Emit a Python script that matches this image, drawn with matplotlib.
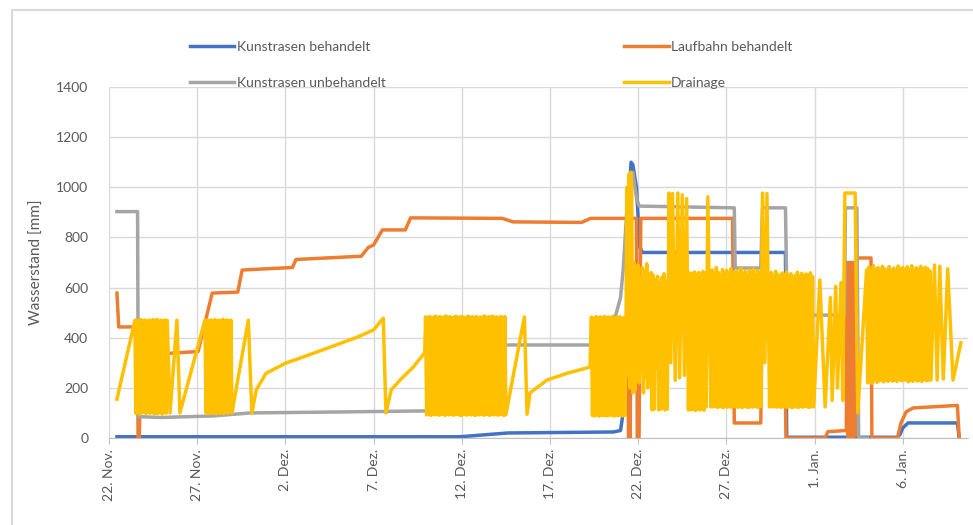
import numpy as np
import pandas as pd
import matplotlib
matplotlib.use("Agg")
import matplotlib.pyplot as plt
from matplotlib.patches import Rectangle

plt.rcParams['font.family'] = ['Lato', 'DejaVu Sans']
plt.rcParams['path.simplify'] = False

start = pd.Timestamp("2019-11-22")   # Tag 0 = 22. Nov.

# Kunstrasen behandelt (Tag, Wasserstand mm)
kb_days = [0.45, 19.9, 22.6, 28.6, 29.0, 29.25, 29.4, 29.5, 29.6, 29.7, 29.9, 30.1, 30.25,
           38.35, 38.42, 44.7, 44.85, 45.0, 45.3, 48.1, 48.2]
kb_vals = [5, 5, 20, 24, 30, 150, 600, 1000, 1100, 1090, 1000, 760, 740,
           740, 3, 3, 15, 40, 60, 60, 0]

# Laufbahn behandelt
lb_days = [0.45, 0.55, 1.6, 1.65, 1.72, 1.8, 3.9, 5.05, 5.85, 7.3, 7.55, 10.4, 10.6, 14.3, 14.7,
           15.0, 15.5, 16.8, 17.1, 22.3, 22.9, 26.8, 27.3, 29.4, 29.45, 29.55, 29.6, 29.9, 29.95,
           30.05, 30.15, 35.35, 35.45, 36.95, 37.02, 38.3, 38.38, 40.6, 40.75, 41.8, 41.85, 41.9,
           41.95, 42.0, 42.05, 42.1, 42.15, 42.2, 42.25, 42.3, 42.38, 43.2, 43.25, 44.7, 44.9,
           45.2, 45.6, 48.1, 48.2]
lb_vals = [578, 443, 443, 0, 0, 330, 340, 345, 578, 582, 670, 680, 712, 725, 760,
           770, 830, 830, 878, 876, 862, 860, 876, 876, 0, 0, 876, 876, 0,
           0, 876, 876, 60, 60, 420, 420, 0, 0, 25, 30, 700, 0,
           700, 0, 700, 0, 700, 0, 700, 10, 718, 718, 0, 0, 60,
           105, 120, 130, 0]

# Kunstrasen unbehandelt
ku_days = [0.45, 1.62, 1.66, 3.0, 5.9, 8.0, 12.0, 17.9, 19.5, 19.6, 27.35, 28.5, 28.7, 29.0,
           29.15, 29.35, 29.55, 29.7, 29.9, 30.05, 35.45, 35.5, 36.95, 37.05, 38.35, 38.45,
           41.7, 41.75, 42.4, 42.5, 43.0]
ku_vals = [903, 903, 85, 82, 88, 100, 103, 108, 108, 371, 371, 440, 483, 560,
           670, 900, 1050, 1060, 960, 925, 918, 678, 678, 918, 918, 490,
           490, 918, 918, 0, 0]

# Drainage: einzelne Punkte
dr_days = [0.45, 1.47, 3.46, 3.85, 4.02, 5.44, 7.9, 8.1, 8.35, 8.9, 10.0, 12.1, 14.1, 15.0,
           15.55, 15.7, 16.0, 16.5, 17.25, 17.9, 23.55, 23.7, 23.87, 24.83, 25.96, 27.27,
           29.3, 29.36, 29.42, 29.47, 29.52, 29.57, 29.63, 29.7,
           31.75, 31.85, 31.95, 32.1, 32.25, 32.35, 32.5, 32.62, 32.75, 32.85,
           33.95, 34.12, 37.05, 37.18, 37.3, 37.45,
           40.3, 40.6, 40.9, 41.0, 41.2, 41.3, 41.5, 41.6, 41.72, 42.3, 42.45,
           46.8, 46.95, 47.1, 47.3, 47.55, 47.85, 48.3]
dr_vals = [155, 470, 100, 470, 100, 470, 470, 100, 192, 258, 298, 351, 403, 431,
           478, 100, 192, 231, 283, 340, 483, 95, 180, 231, 258, 283,
           300, 1000, 250, 1050, 200, 1060, 1010, 180,
           977, 300, 975, 230, 977, 240, 970, 250, 955, 112,
           962, 124, 977, 300, 975, 124,
           630, 124, 560, 150, 605, 200, 620, 150, 977, 977, 100,
           690, 231, 685, 235, 675, 231, 380]

# Drainage: dichte Pumpzyklen (Anfang, Ende, Werte)
dr_b1 = [98, 470, 102, 466, 95, 472, 100, 468, 104, 471, 97, 465, 101, 470, 99, 467,
         103, 472, 96, 469, 100, 473, 98, 466, 102, 470, 95, 468, 101, 471, 99, 469]
dr_b2 = [100, 470, 97, 468, 103, 471, 99, 466, 101, 472, 96, 469, 102, 470,
         98, 467, 100, 473, 97, 468, 103, 471, 99, 466, 101, 470, 100]
dr_b3 = [483, 92, 480, 95, 485, 90, 478, 94, 482, 92, 486, 96, 480, 91, 484, 93, 479, 95, 483, 90,
         487, 94, 481, 92, 484, 96, 478, 91, 482, 93, 486, 95, 480, 92, 483, 90, 485, 94, 479, 93,
         482, 91, 486, 95, 481, 92, 484, 93, 480, 90, 485, 94, 478, 92, 483, 96, 481, 91, 487, 93,
         479, 95, 484, 90, 482, 94, 486, 92, 480, 96, 483, 91, 478, 93, 485, 95, 481, 90, 484, 93]
dr_b4 = [482, 90, 478, 88, 484, 92, 480, 87, 483, 91, 479, 89, 485, 90, 481, 88,
         483, 92, 480, 90, 486, 87, 479, 91, 482, 89, 484, 92, 478, 88, 481, 90]
dr_b5 = [700, 190, 655, 280, 690, 220, 640, 260, 680, 180, 665, 240, 695, 200, 650, 270,
         660, 112, 650, 115, 630, 280, 645, 112, 620, 115, 640, 118, 655, 112, 625, 115]
dr_b6 = [658, 112, 655, 115, 662, 110, 650, 114, 660, 112, 653, 116, 664, 111, 657, 124]
dr_b7 = [670, 124, 655, 126, 680, 122, 660, 125, 645, 124, 672, 121, 658, 126, 668, 123,
         650, 125, 675, 122, 662, 127, 648, 124, 666, 123, 655, 125, 678, 121, 652, 126,
         664, 124, 646, 122, 670, 125, 659, 123, 674, 126, 650, 124, 668, 122, 657, 125]
dr_b8 = [660, 124, 648, 126, 665, 123, 652, 125, 640, 122, 658, 126, 650, 124, 662, 123,
         645, 125, 655, 121, 640, 124, 648, 124, 661, 122, 646, 125, 657, 123, 642, 126,
         654, 124, 649, 122, 659, 125, 644, 124]
dr_b9 = [670, 220, 682, 225, 665, 218, 688, 230, 672, 222, 680, 228, 668, 231, 685, 224, 675, 229,
         662, 226, 684, 232, 670, 227, 678, 230, 666, 225, 686, 233, 674, 228, 680, 231, 668, 231,
         683, 224, 671, 229, 687, 226, 664, 232, 679, 227, 673, 230, 685, 225, 669, 233, 681, 228,
         676, 231, 667, 231]
dr_blocks = [(1.52, 3.3, dr_b1), (5.5, 6.97, dr_b2), (17.95, 22.5, dr_b3), (27.35, 29.25, dr_b4),
             (29.75, 31.65, dr_b5), (32.95, 33.85, dr_b6), (34.2, 36.95, dr_b7),
             (37.55, 39.95, dr_b8), (42.95, 46.6, dr_b9)]

tick_days = [0, 5, 10, 15, 20, 25, 30, 35, 40, 45]
tick_labels = ["22. Nov.", "27. Nov.", "2. Dez.", "7. Dez.", "12. Dez.", "17. Dez.",
               "22. Dez.", "27. Dez.", "1. Jan.", "6. Jan."]


def to_dates(days):
    return start + pd.to_timedelta(np.asarray(days, dtype=float), unit="D")


# Drainage zusammensetzen
d_all = list(dr_days)
v_all = list(dr_vals)
for a, b, vals in dr_blocks:
    d_all += list(np.linspace(a, b, len(vals)))
    v_all += vals
order = np.argsort(d_all, kind="stable")
d_all = np.array(d_all)[order]
v_all = np.array(v_all)[order]

fig = plt.figure(figsize=(9.73, 5.25), dpi=100)
ax = fig.add_axes([109 / 973, 1 - 438 / 525, 859 / 973, 351 / 525])

lw = 2.5
l1, = ax.plot(to_dates(kb_days), kb_vals, color="#4472C4", lw=lw, label="Kunstrasen behandelt")
l2, = ax.plot(to_dates(lb_days), lb_vals, color="#ED7D31", lw=lw, label="Laufbahn behandelt")
l3, = ax.plot(to_dates(ku_days), ku_vals, color="#A5A5A5", lw=lw, label="Kunstrasen unbehandelt")
l4, = ax.plot(to_dates(d_all), v_all, color="#FFC000", lw=lw, label="Drainage")

ax.set_ylim(0, 1400)
ax.set_yticks(range(0, 1401, 200))
ax.set_xlim(to_dates([0])[0], to_dates([48.7])[0])
ax.set_xticks(to_dates(tick_days))
ax.set_xticklabels(tick_labels, rotation=90)
ax.grid(True, color="#d9d9d9", lw=1)
ax.set_axisbelow(True)
for s in ["top", "right", "left"]:
    ax.spines[s].set_visible(False)
ax.spines["bottom"].set_color("#bfbfbf")
ax.tick_params(colors="#595959", labelsize=10, length=0, pad=15)
ax.tick_params(axis="x", length=4, color="#bfbfbf", pad=4)
ax.set_ylabel("Wasserstand [mm]", color="#595959", fontsize=11, labelpad=9)

# Legende zeilenweise wie im Original
fig.legend([l1, l3, l2, l4], [l.get_label() for l in (l1, l3, l2, l4)],
           loc="upper left", bbox_to_anchor=(190 / 973, 1 - 41 / 525), ncol=2, frameon=False,
           fontsize=10, labelcolor="#595959", handlelength=3.2, handletextpad=0.15,
           columnspacing=17.2, labelspacing=1.7, borderpad=0, borderaxespad=0)

fig.add_artist(Rectangle((12 / 973, -0.02), 1.0, 1.02 - 10 / 525, transform=fig.transFigure,
                         fill=False, edgecolor="#d9d9d9", lw=1.5))

fig.savefig("out.png", dpi=100)
